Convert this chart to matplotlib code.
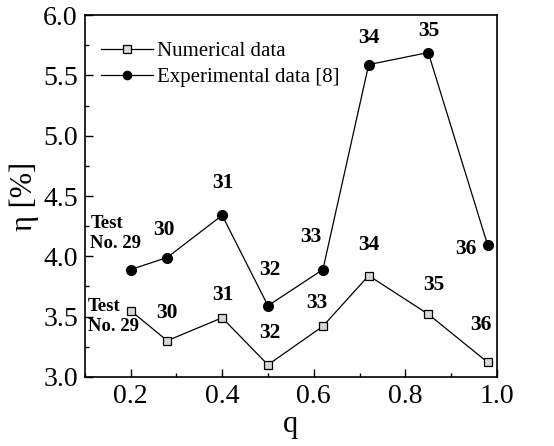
import matplotlib
matplotlib.use("Agg")
import matplotlib.pyplot as plt
from matplotlib.ticker import MultipleLocator

plt.rcParams['font.family'] = ['Liberation Serif', 'DejaVu Serif']

# dữ liệu
q = [0.20, 0.28, 0.40, 0.50, 0.62, 0.72, 0.85, 0.98]
eta_num = [3.55, 3.30, 3.49, 3.10, 3.42, 3.84, 3.52, 3.12]
eta_exp = [3.89, 3.99, 4.34, 3.59, 3.89, 5.59, 5.69, 4.09]

# nhãn số thí nghiệm (x, y, text)
exp_labels = [(0.273, 4.22, '30'), (0.402, 4.61, '31'), (0.505, 3.89, '32'),
              (0.593, 4.16, '33'), (0.720, 5.81, '34'), (0.851, 5.87, '35'),
              (0.933, 4.06, '36')]
num_labels = [(0.280, 3.53, '30'), (0.402, 3.68, '31'), (0.504, 3.36, '32'),
              (0.607, 3.61, '33'), (0.720, 4.09, '34'), (0.862, 3.76, '35'),
              (0.964, 3.43, '36')]

fig = plt.figure(figsize=(5.54, 4.46), dpi=100)
ax = fig.add_axes([0.153, 0.155, 0.744, 0.811])

ax.plot(q, eta_num, '-', color='black', lw=0.9, marker='s', ms=6,
        mfc='#d8d8d8', mec='black', mew=0.9, label='Numerical data')
ax.plot(q, eta_exp, '-', color='black', lw=0.9, marker='o', ms=7,
        mfc='black', mec='black', label='Experimental data [8]')

for x, y, t in exp_labels + num_labels:
    ax.text(x, y, t, ha='center', va='center', fontsize=15.5, fontweight='bold')

ax.text(0.112, 4.19, 'Test\nNo. 29', ha='left', va='center', fontsize=13.5,
        fontweight='bold', linespacing=1.2)
ax.text(0.106, 3.50, 'Test\nNo. 29', ha='left', va='center', fontsize=13.5,
        fontweight='bold', linespacing=1.2)

ax.set_xlim(0.1, 1.0)
ax.set_ylim(3.0, 6.0)
ax.xaxis.set_major_locator(MultipleLocator(0.2))
ax.xaxis.set_minor_locator(MultipleLocator(0.1))
ax.yaxis.set_major_locator(MultipleLocator(0.5))
ax.yaxis.set_minor_locator(MultipleLocator(0.25))
ax.tick_params(which='both', direction='in', top=False, right=False,
               labelsize=20, width=1.0)
ax.tick_params(which='major', length=6, pad=5)
ax.tick_params(which='minor', length=3)
ax.xaxis.set_major_formatter(plt.FuncFormatter(lambda v, p: f'{v:.1f}'))
ax.yaxis.set_major_formatter(plt.FuncFormatter(lambda v, p: f'{v:.1f}'))
for s in ax.spines.values():
    s.set_linewidth(1.2)

ax.set_xlabel('q', fontsize=22, labelpad=1)
ax.set_ylabel('η [%]', fontsize=22, labelpad=3)

ax.legend(loc='upper left', frameon=False, fontsize=15, handlelength=2.5,
          handletextpad=0.15, borderaxespad=0.0, labelspacing=0.3,
          markerscale=0.85, bbox_to_anchor=(0.02, 0.95))

fig.savefig('out.png', dpi=100)
